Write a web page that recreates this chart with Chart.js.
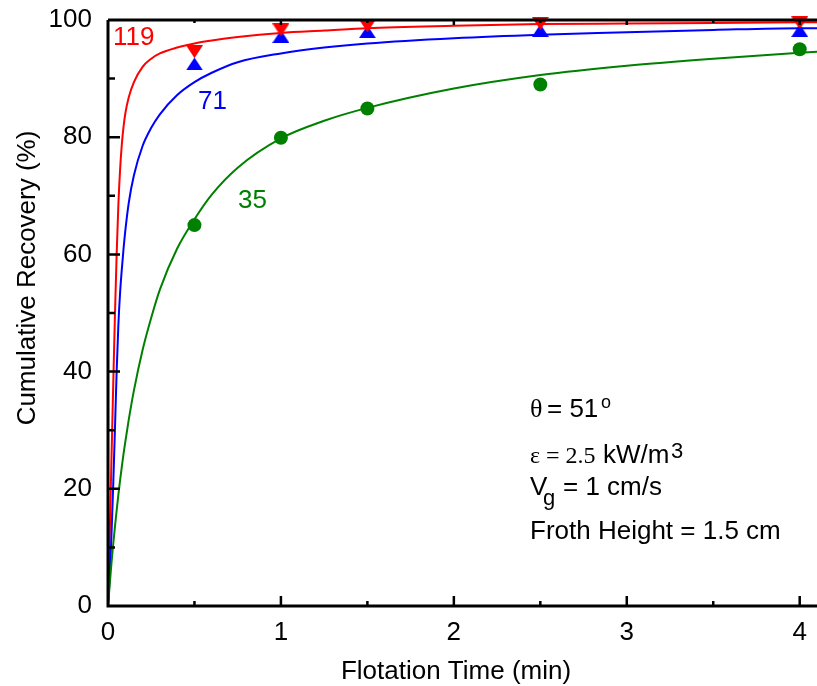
<!DOCTYPE html>
<html>
<head>
<meta charset="utf-8">
<script src="https://cdn.jsdelivr.net/npm/chart.js@4.4.0/dist/chart.umd.min.js"></script>
<style>
  html, body { margin: 0; padding: 0; background: #fff; }
  #wrap { width: 817px; height: 686px; }
</style>
</head>
<body>
<div id="wrap"><canvas id="recoveryChart" width="817" height="686"></canvas></div>
<script>
// measured recoveries, one list per impeller speed label
const sampleTimes = [0.5, 1, 1.5, 2.5, 4];
const rec119 = [94.6, 98.3, 99.0, 99.4, 99.5];
const rec71 = [92.5, 97.2, 98.0, 98.2, 98.2];
const rec35 = [65.0, 79.9, 84.9, 89.0, 95.0];

// fitted curves
const fitTimes = [0, 0.01, 0.02, 0.03, 0.04, 0.05, 0.06, 0.07, 0.08, 0.09, 0.1, 0.12, 0.15, 0.2, 0.25, 0.3, 0.4, 0.5, 0.6, 0.75, 1, 1.25, 1.5, 2, 2.5, 3, 3.5, 4, 4.1];
const fit119 = [0, 12, 25, 37.5, 49.5, 60, 68.5, 74.5, 78.8, 81.8, 84, 86.8, 89.4, 92, 93.4, 94.3, 95.3, 96.0, 96.5, 97.1, 97.8, 98.2, 98.6, 99.0, 99.3, 99.4, 99.5, 99.6, 99.6];
const fit71 = [0, 5, 12, 20.5, 30, 40, 48, 53.5, 57.5, 61, 64, 68.8, 73.5, 78.5, 81.6, 83.9, 87.2, 89.4, 91.0, 92.8, 94.3, 95.3, 96.0, 96.9, 97.5, 97.9, 98.3, 98.6, 98.6];
const fit35 = [0, 3.7, 7.3, 10.5, 13.5, 16.3, 19.0, 21.5, 23.8, 26, 28, 31.8, 36.8, 43.7, 49.2, 54, 61, 66, 70.2, 74.8, 79.8, 82.8, 85.0, 88.3, 90.6, 92.2, 93.4, 94.4, 94.6];

const xTickVals = [0, 1, 2, 3, 4];
const yTickVals = [0, 20, 40, 60, 80, 100];

const RED = '#ff0000';
const BLUE = '#0000ff';
const GREEN = '#008000';
const SANS = '"Liberation Sans", Arial, sans-serif';
const SERIF = '"Liberation Serif", "Times New Roman", serif';

const toXY = (xs, ys) => xs.map((x, i) => ({ x: x, y: ys[i] }));

// flat triangle markers (wider than tall)
function triangleMarker(color, down) {
    const c = document.createElement('canvas');
    c.width = 17;
    c.height = 13;
    const g = c.getContext('2d');
    g.fillStyle = color;
    g.beginPath();
    if (down) {
        g.moveTo(0, 0); g.lineTo(17, 0); g.lineTo(8.5, 13);
    } else {
        g.moveTo(8.5, 0); g.lineTo(17, 13); g.lineTo(0, 13);
    }
    g.closePath();
    g.fill();
    return c;
}

function fitLine(data, color) {
    return {
        data: data,
        showLine: true,
        borderColor: color,
        borderWidth: 2,
        pointRadius: 0,
        cubicInterpolationMode: 'monotone',
        fill: false
    };
}

function markerSet(data, color, style, radius) {
    return {
        data: data,
        showLine: false,
        pointStyle: style,
        pointRadius: radius,
        backgroundColor: color,
        borderColor: color,
        borderWidth: 0,
        clip: false
    };
}

// axis frame with inward ticks
const framePlugin = {
    id: 'frame',
    afterDatasetsDraw(chart) {
        const { ctx, chartArea: a, scales: { x, y } } = chart;
        ctx.save();
        ctx.strokeStyle = '#000';
        ctx.lineWidth = 3;
        ctx.beginPath();
        ctx.moveTo(a.left, a.top);
        ctx.lineTo(a.left, a.bottom);
        ctx.lineTo(a.right, a.bottom);
        ctx.moveTo(a.left, a.top);
        ctx.lineTo(a.right, a.top);
        ctx.stroke();

        ctx.lineWidth = 2.5;
        ctx.beginPath();
        for (let v = 0.5; v <= 4; v += 0.5) {
            const px = x.getPixelForValue(v);
            const major = Number.isInteger(v);
            ctx.moveTo(px, a.bottom);
            ctx.lineTo(px, a.bottom - (major ? 10 : 5));
            ctx.moveTo(px, a.top);
            ctx.lineTo(px, a.top + (major ? 5 : 3));
        }
        for (let v = 10; v < 100; v += 10) {
            const py = y.getPixelForValue(v);
            const major = v % 20 === 0;
            ctx.moveTo(a.left, py);
            ctx.lineTo(a.left + (major ? 12 : 7), py);
        }
        ctx.stroke();
        ctx.restore();
    }
};

// axis titles and annotations
const labelPlugin = {
    id: 'labels',
    afterDraw(chart) {
        const { ctx } = chart;
        ctx.save();
        ctx.textBaseline = 'alphabetic';
        ctx.textAlign = 'left';

        ctx.font = '26px ' + SANS;
        ctx.fillStyle = RED;
        ctx.fillText('119', 113, 45);
        ctx.fillStyle = BLUE;
        ctx.fillText('71', 198, 109);
        ctx.fillStyle = GREEN;
        ctx.fillText('35', 238, 208);

        ctx.fillStyle = '#000';
        ctx.textAlign = 'center';
        ctx.fillText('Flotation Time (min)', 456, 679);

        ctx.save();
        ctx.translate(35, 278);
        ctx.rotate(-Math.PI / 2);
        ctx.fillText('Cumulative Recovery (%)', 0, 0);
        ctx.restore();

        ctx.textAlign = 'left';
        ctx.font = '26px ' + SERIF;
        ctx.fillText('\u03b8', 530, 417);
        ctx.font = '26px ' + SANS;
        ctx.fillText('= 51', 547, 417);
        ctx.font = '18px ' + SANS;
        ctx.fillText('o', 601, 408);

        ctx.font = '24px ' + SERIF;
        ctx.fillText('\u03b5 = 2.5', 530, 463);
        ctx.font = '26px ' + SANS;
        ctx.fillText('kW/m', 603, 463);
        ctx.font = '22px ' + SANS;
        ctx.fillText('3', 671, 458);

        ctx.font = '26px ' + SANS;
        ctx.fillText('V', 530, 495);
        ctx.font = '22px ' + SANS;
        ctx.fillText('g', 543, 505);
        ctx.font = '26px ' + SANS;
        ctx.fillText('= 1 cm/s', 563, 495);
        ctx.fillText('Froth Height = 1.5 cm', 530, 539);
        ctx.restore();
    }
};

// drop the label overflow padding so the plot box fills the canvas edges
function noScalePadding(s) {
    s.paddingTop = 0;
    s.paddingBottom = 0;
    s.paddingLeft = 0;
    s.paddingRight = 0;
}

const downTri = triangleMarker(RED, true);
const upTri = triangleMarker(BLUE, false);

new Chart(document.getElementById('recoveryChart'), {
    type: 'scatter',
    data: {
        datasets: [
            fitLine(toXY(fitTimes, fit35), GREEN),
            fitLine(toXY(fitTimes, fit71), BLUE),
            fitLine(toXY(fitTimes, fit119), RED),
            markerSet(toXY(sampleTimes, rec35), GREEN, 'circle', 7),
            markerSet(toXY(sampleTimes, rec119), RED, downTri, 9),
            markerSet(toXY(sampleTimes, rec71), BLUE, upTri, 9)
        ]
    },
    options: {
        responsive: false,
        animation: false,
        devicePixelRatio: 1,
        layout: { autoPadding: false, padding: { top: 20, right: 0, left: 0, bottom: 0 } },
        plugins: {
            legend: { display: false },
            tooltip: { enabled: false }
        },
        scales: {
            x: {
                type: 'linear',
                min: 0,
                max: 4.1,
                afterBuildTicks: s => { s.ticks = xTickVals.map(v => ({ value: v })); },
                afterFit: s => { s.height = 80; noScalePadding(s); },
                grid: { display: false, drawTicks: false },
                border: { display: false },
                ticks: {
                    color: '#000',
                    padding: 11,
                    maxRotation: 0,
                    font: { family: SANS, size: 26 }
                }
            },
            y: {
                type: 'linear',
                min: 0,
                max: 100,
                afterBuildTicks: s => { s.ticks = yTickVals.map(v => ({ value: v })); },
                afterFit: s => { s.width = 108; noScalePadding(s); },
                grid: { display: false, drawTicks: false },
                border: { display: false },
                ticks: {
                    color: '#000',
                    padding: 16,
                    font: { family: SANS, size: 26 }
                }
            }
        }
    },
    plugins: [framePlugin, labelPlugin]
});
</script>
</body>
</html>
